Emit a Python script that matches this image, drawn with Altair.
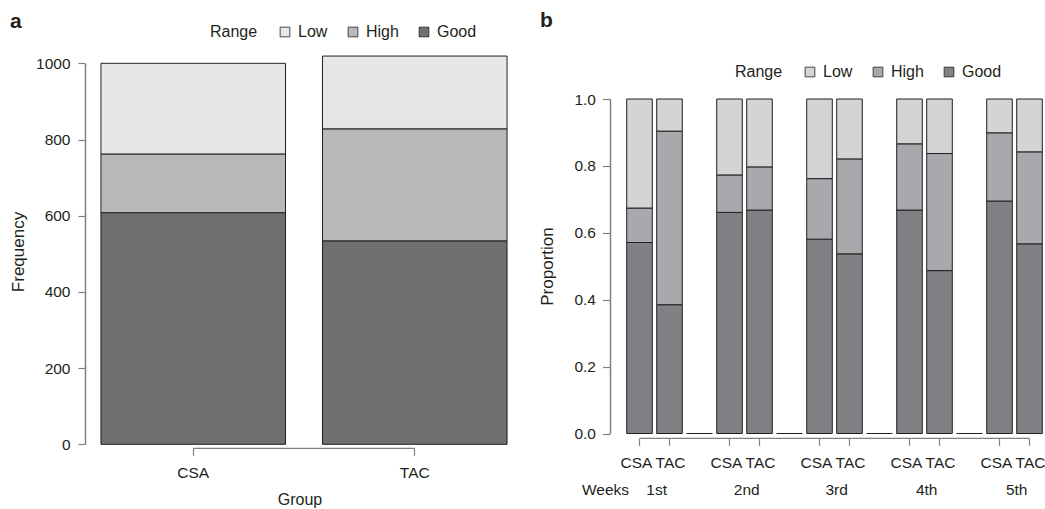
import altair as alt
import pandas as pd

# ---------------- data ----------------
# Panel a: frequency by group
groups = ["CSA", "TAC"]
ranges = ["Low", "High", "Good"]
good_a = [608, 534]
high_a = [154, 294]
low_a = [238, 191]

# Panel b: proportion by week and group
weeks = ["1st", "2nd", "3rd", "4th", "5th"]
good_csa = [0.571, 0.661, 0.581, 0.668, 0.695]
high_csa = [0.103, 0.112, 0.181, 0.198, 0.204]
low_csa = [0.326, 0.227, 0.238, 0.134, 0.101]
good_tac = [0.385, 0.668, 0.537, 0.487, 0.567]
high_tac = [0.519, 0.129, 0.284, 0.350, 0.275]
low_tac = [0.096, 0.203, 0.179, 0.163, 0.158]

y_ticks_a = [0, 200, 400, 600, 800, 1000]
y_ticks_b = [0.0, 0.2, 0.4, 0.6, 0.8, 1.0]
panel_tags = ["a", "b"]

# ---------------- styles ----------------
FONT = "Liberation Sans"
TXT = "#231f20"
AX = "#808080"
LAB = 15.5
colors_a = ["#e6e7e7", "#b8b9bb", "#6e6f71"]
colors_b = ["#d3d4d6", "#a8a9ac", "#808184"]
rank = {"Good": 0, "High": 1, "Low": 2}

# ---------------- tables ----------------
rows_a = []
for i, g in enumerate(groups):
    for r, v in (("Good", good_a[i]), ("High", high_a[i]), ("Low", low_a[i])):
        rows_a.append({"Group": g, "Range": r, "Freq": v, "rank": rank[r]})
df_a = pd.DataFrame(rows_a)

slots = []
tick_slots = []
rows_b = []
for i, w in enumerate(weeks):
    for g, gd, hi, lo in (("CSA", good_csa, high_csa, low_csa), ("TAC", good_tac, high_tac, low_tac)):
        s = f"{w} {g}"
        slots.append(s)
        tick_slots.append(s)
        for r, v in (("Good", gd[i]), ("High", hi[i]), ("Low", lo[i])):
            rows_b.append({"slot": s, "Range": r, "Prop": v, "rank": rank[r]})
    if i < len(weeks) - 1:
        s = f"{w} gap"
        slots.append(s)
        rows_b.append({"slot": s, "Range": "Good", "Prop": 0.0, "rank": 0})
df_b = pd.DataFrame(rows_b)
df_ticks_b = pd.DataFrame({"slot": tick_slots})
df_weeks = pd.DataFrame({"slot": [f"{w} TAC" for w in weeks], "label": weeks})


def legend(x, y):
    return alt.Legend(orient="none", legendX=x, legendY=y, direction="horizontal",
                      titleOrient="left", title="Range", symbolType="square",
                      symbolSize=95, symbolStrokeColor=TXT, symbolStrokeWidth=0.8,
                      symbolOpacity=1, labelFontSize=16, labelFont=FONT,
                      labelColor=TXT, titleFontSize=16, titleFont=FONT,
                      titleColor=TXT, titleFontWeight="normal", columnPadding=17,
                      labelOffset=5, padding=0, titlePadding=19)


# ---------------- panel a ----------------
xa_scale = alt.Scale(domain=groups, range=[85, 523], paddingInner=0.167, paddingOuter=0.072)
xa = alt.X("Group:N", scale=xa_scale,
           axis=alt.Axis(orient="bottom", offset=-60.7, domain=False, tickSize=7, tickColor=AX,
                         tickWidth=1.2, labelPadding=10, labelFontSize=LAB, labelFont=FONT,
                         labelColor=TXT, labelAngle=0, title=None, grid=False))
ya = alt.Y("Freq:Q", stack="zero",
           scale=alt.Scale(domain=[0, 1000], range=[444.3, 63.3]),
           axis=alt.Axis(orient="left", offset=-85, values=y_ticks_a, format="d", tickSize=7,
                         tickColor=AX, tickWidth=1.2, domainColor=AX, domainWidth=1.5,
                         labelPadding=8, labelFontSize=LAB, labelFont=FONT, labelColor=TXT,
                         title=None, grid=False))

bars_a = alt.Chart(df_a).mark_bar(stroke=TXT, strokeWidth=1).encode(
    x=xa, y=ya,
    color=alt.Color("Range:N", scale=alt.Scale(domain=ranges, range=colors_a),
                    legend=legend(210, 24)),
    order=alt.Order("rank:Q", sort="ascending"),
)
bracket_a = alt.Chart(pd.DataFrame({"Group": groups})).mark_line(color=AX, strokeWidth=1.2).encode(
    x=xa, y=alt.value(448.3))

txt_a = alt.Chart(pd.DataFrame({"t": [panel_tags[0]]})).mark_text(
    font=FONT, fontSize=21, fontWeight="bold", color=TXT, align="left", baseline="alphabetic"
).encode(text="t:N", x=alt.value(10), y=alt.value(28))
ytitle_a = alt.Chart(pd.DataFrame({"t": ["Frequency"]})).mark_text(
    font=FONT, fontSize=17, color=TXT, angle=270, align="center", baseline="middle"
).encode(text="t:N", x=alt.value(18.5), y=alt.value(252))
xtitle_a = alt.Chart(pd.DataFrame({"t": ["Group"]})).mark_text(
    font=FONT, fontSize=16, color=TXT, align="center", baseline="alphabetic"
).encode(text="t:N", x=alt.value(300), y=alt.value(505))

panel_a = alt.layer(bars_a, bracket_a, txt_a, ytitle_a, xtitle_a)

# ---------------- panel b ----------------
xb_scale = alt.Scale(domain=slots, range=[624.5, 1044.5], paddingInner=0.147, paddingOuter=0.0735)
xb_axis = alt.Axis(orient="bottom", offset=-70.7, domain=False, values=tick_slots, tickSize=7,
                   tickColor=AX, tickWidth=1.2, labelPadding=10, labelFontSize=LAB, labelFont=FONT,
                   labelColor=TXT, labelAngle=0, labelExpr="split(datum.value, ' ')[1]",
                   labelOffset={"condition": {"test": "indexof(datum.value, 'CSA') >= 0", "value": -3},
                                "value": 1},
                   title=None, grid=False)
xb = alt.X("slot:N", scale=xb_scale, axis=xb_axis)
yb = alt.Y("Prop:Q", stack="zero",
           scale=alt.Scale(domain=[0, 1], range=[433.5, 99]),
           axis=alt.Axis(orient="left", offset=-610, values=y_ticks_b, format=".1f", tickSize=7.5,
                         tickColor=AX, tickWidth=1.2, domainColor=AX, domainWidth=1.5,
                         labelPadding=7, labelFontSize=LAB, labelFont=FONT, labelColor=TXT,
                         title=None, grid=False))

bars_b = alt.Chart(df_b).mark_bar(stroke=TXT, strokeWidth=1).encode(
    x=xb, y=yb,
    color=alt.Color("Range:N", scale=alt.Scale(domain=ranges, range=colors_b),
                    legend=legend(735, 64)),
    order=alt.Order("rank:Q", sort="ascending"),
)
bracket_b = alt.Chart(df_ticks_b).mark_line(color=AX, strokeWidth=1.2).encode(
    x=xb, y=alt.value(438.3))
weeks_b = alt.Chart(df_weeks).mark_text(
    font=FONT, fontSize=LAB, color=TXT, align="center", baseline="alphabetic"
).encode(text="label:N",
         x=alt.X("slot:N", scale=xb_scale, axis=xb_axis, bandPosition=0),
         y=alt.value(495))
weeks_title = alt.Chart(pd.DataFrame({"t": ["Weeks"]})).mark_text(
    font=FONT, fontSize=LAB, color=TXT, align="right", baseline="alphabetic"
).encode(text="t:N", x=alt.value(629), y=alt.value(495))
txt_b = alt.Chart(pd.DataFrame({"t": [panel_tags[1]]})).mark_text(
    font=FONT, fontSize=21, fontWeight="bold", color=TXT, align="left", baseline="alphabetic"
).encode(text="t:N", x=alt.value(540), y=alt.value(27))
ytitle_b = alt.Chart(pd.DataFrame({"t": ["Proportion"]})).mark_text(
    font=FONT, fontSize=17, color=TXT, angle=270, align="center", baseline="middle"
).encode(text="t:N", x=alt.value(548), y=alt.value(266.5))

panel_b = alt.layer(bars_b, bracket_b, weeks_b, weeks_title, txt_b, ytitle_b)

chart = alt.layer(panel_a, panel_b).resolve_scale(
    x="independent", y="independent", color="independent"
).properties(
    width=1045, height=509, padding=0,
    autosize=alt.AutoSizeParams(type="none"),
    background="white",
).configure_view(stroke=None)

chart.save("out.html", embed_options={"renderer": "svg", "actions": False})
